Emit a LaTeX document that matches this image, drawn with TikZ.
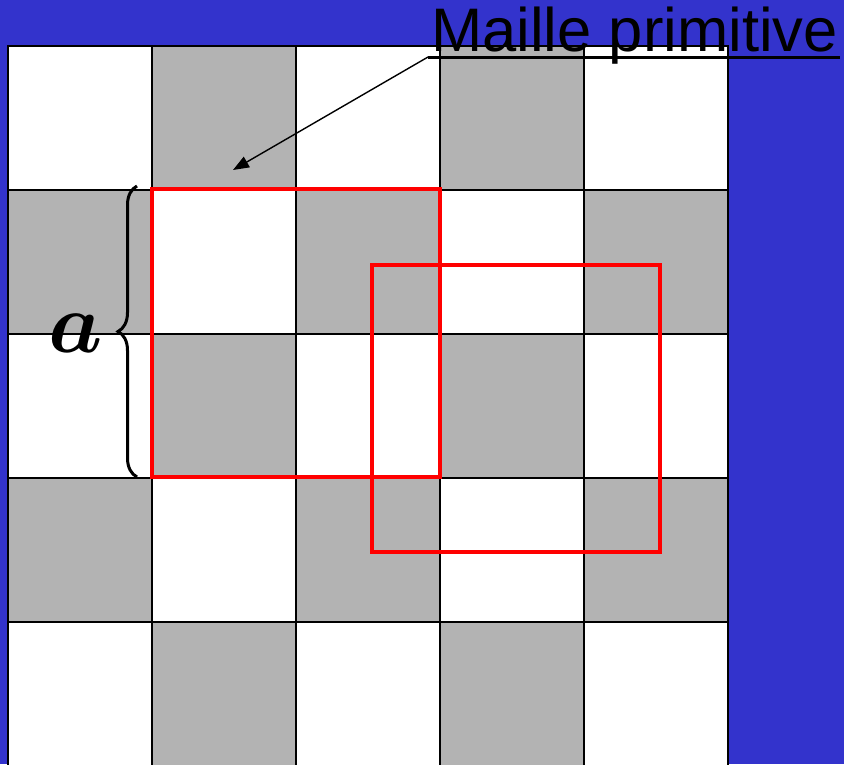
\documentclass[tikz,border=0pt]{standalone}
\usepackage{amsmath,bm}
\usepackage{fontspec}
\setmainfont{Liberation Sans}
\usetikzlibrary{decorations.pathreplacing,arrows.meta}
\definecolor{bgblue}{RGB}{51,51,204}
\definecolor{cellgray}{RGB}{179,179,179}
\tikzset{
  cellbox/.style={draw=black,line width=1.5},
  cellw/.style={cellbox,fill=white},
  cellg/.style={cellbox,fill=cellgray},
  cellframe/.style={draw=red,line width=4.5},
  pointer/.style={-{Triangle[length=16,width=12]},line width=1.4},
}
\begin{document}
\begin{tikzpicture}[x=1pt,y=-1pt]
\useasboundingbox (0,0) rectangle (844,764);
\clip (0,0) rectangle (844,764);
\fill[bgblue] (0,0) rectangle (844,764);
\foreach \i in {0,...,4}{
  \foreach \j in {0,...,4}{
    \pgfmathtruncatemacro{\cellpar}{mod(\i+\j,2)}
    \ifnum\cellpar=0
      \draw[cellw] (8+144*\i,46+144*\j) rectangle ++(144,144);
    \else
      \draw[cellg] (8+144*\i,46+144*\j) rectangle ++(144,144);
    \fi
  }
}
\draw[cellframe] (152,189) rectangle (440,477);
\draw[cellframe] (372,265) rectangle (660,552);
\node[anchor=base west,inner sep=0,font=\fontsize{61.5}{62}\selectfont] (title) at (431,51) {Maille primitive};
\coordinate (ulstart) at (428,57);
\coordinate (ulend) at (840,57);
\draw[line width=3] (ulstart) -- (ulend);
\coordinate (target) at (233,170);
\draw[pointer] (ulstart) -- (target);
\coordinate (bracebot) at (137,477);
\coordinate (bracetop) at (137,186);
\draw[decorate,decoration={brace,amplitude=19pt},line width=3] (bracebot) -- (bracetop);
\node[inner sep=0] (alabel) at (76,333) {\scalebox{8.6}{$\boldsymbol{a}$}};
\end{tikzpicture}
\end{document}
